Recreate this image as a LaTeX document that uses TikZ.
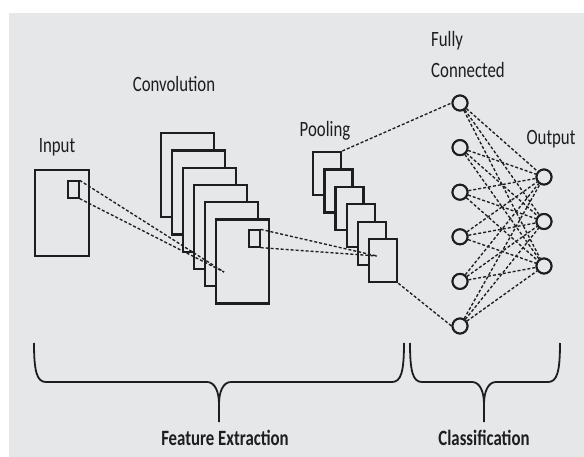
\documentclass[tikz,border=0pt]{standalone}
\usepackage{fontspec}
\usepackage{graphicx}
\setmainfont{Carlito}
\definecolor{bg}{HTML}{E6E7E9}
\definecolor{ink}{HTML}{1E1E1E}
\newcommand{\tallt}[1]{\scalebox{1}[1.3]{#1}}
\begin{document}
\begin{tikzpicture}[x=1pt,y=-1pt,
  frame/.style={draw=ink,line width=2.3pt,fill=bg,inner sep=0pt,anchor=north west},
  smallsq/.style={draw=ink,line width=1.3pt,fill=none,inner sep=0pt,minimum width=11pt,minimum height=17pt},
  dl/.style={draw=ink,line width=1.35pt,dash pattern=on 3pt off 2pt},
  neuron/.style={circle,draw=ink,line width=2pt,fill=bg,inner sep=0pt,minimum size=15pt},
  lbl/.style={text=ink,inner sep=0pt,font=\fontsize{16.8}{20}\selectfont},
  blbl/.style={lbl,font=\fontsize{16.8}{20}\selectfont\bfseries},
  brace/.style={draw=ink,line width=1.8pt,line join=round}]
\useasboundingbox (0,0) rectangle (584,457);
\fill[white] (0,0) rectangle (584,457);
\fill[bg] (9,13) rectangle (584,457);

% input
\node[frame,minimum width=54pt,minimum height=86pt] (in) at (34,169) {};
\node[smallsq] (insq) at (73.5,189.5) {};

% convolution stack
\foreach \i in {1,...,6}{
  \node[frame,minimum width=53pt,minimum height=84pt] (conv\i) at ({160+11*(\i-1)},{132+17.3*(\i-1)}) {};
}
\node[smallsq] (convsq) at (254.5,238.5) {};

% pooling stack
\foreach \i in {1,...,6}{
  \node[frame,minimum width=28pt,minimum height=43pt] (pool\i) at ({312+11.2*(\i-1)},{151+17.4*(\i-1)}) {};
}

% neurons
\foreach \i in {1,...,6}{
  \node[neuron] (fc\i) at (460,{103+44.6*(\i-1)}) {};
}
\foreach \i in {1,...,3}{
  \node[neuron] (out\i) at (544,{177+44.5*(\i-1)}) {};
}

\coordinate (c1) at (224,272);
\coordinate (p1) at (377,256);

% dashed connectors
\draw[dl] (insq.north east) -- (c1);
\draw[dl] (insq.south east) -- (c1);
\draw[dl] (convsq.north east) -- (p1);
\draw[dl] (convsq.south east) -- (p1);
\draw[dl] (pool1.north east) -- (fc1.west);
\draw[dl] (pool6.south east) -- (fc6.west);
\foreach \i in {1,...,6}{
  \foreach \j in {1,...,3}{
    \draw[dl] (fc\i) -- (out\j);
  }
}
% redraw neurons on top
\foreach \i in {1,...,6}{
  \node[neuron] at (fc\i) {};
}
\foreach \i in {1,...,3}{
  \node[neuron] at (out\i) {};
}

% labels
\node[lbl,anchor=base] (linput) at (57,153) {\tallt{Input}};
\node[lbl,anchor=base] (lconv) at (174,92) {\tallt{Convolution}};
\node[lbl,anchor=base] (lpool) at (325,137) {\tallt{Pooling}};
\node[lbl,anchor=base west] (lfully) at (431,47) {\tallt{Fully}};
\node[lbl,anchor=base west] (lconn) at (431,78) {\tallt{Connected}};
\node[lbl,anchor=base] (lout) at (551,145) {\tallt{Output}};

% braces
\coordinate (b1tip) at (219,422);
\coordinate (b2tip) at (484,422);
\draw[brace] (34,343) .. controls (34,372) and (37,382) .. (46,382) -- (207,382)
  .. controls (215,382) and (219,392) .. (219,404) -- (b1tip);
\draw[brace] (219,404) .. controls (219,392) and (223,382) .. (231,382) -- (392,382)
  .. controls (401,382) and (404,372) .. (404,343);
\draw[brace] (410,343) .. controls (410,372) and (413,382) .. (422,382) -- (472,382)
  .. controls (480,382) and (484,392) .. (484,404) -- (b2tip);
\draw[brace] (484,404) .. controls (484,392) and (488,382) .. (496,382) -- (548,382)
  .. controls (557,382) and (560,372) .. (560,343);

\node[blbl,anchor=base] (lfe) at (225,445) {\tallt{Feature Extraction}};
\node[blbl,anchor=base] (lcl) at (484,445) {\tallt{Classification}};
\end{tikzpicture}
\end{document}
